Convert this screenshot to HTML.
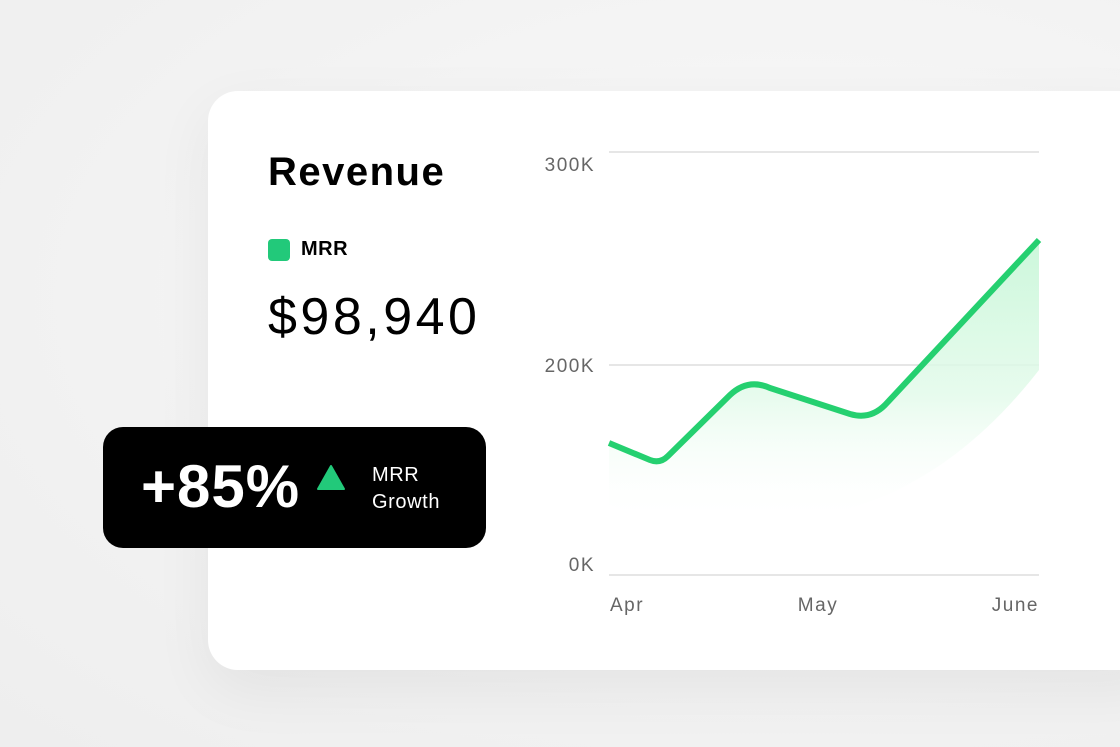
<!DOCTYPE html>
<html><head><style>
html,body{margin:0;padding:0}
body{width:1120px;height:747px;overflow:hidden;position:relative;background:radial-gradient(ellipse at 70% 40%,#f9f9f9 0%,#f1f1f1 70%,#eeeeee 100%);font-family:"Liberation Sans",sans-serif}
.card{position:absolute;left:208px;top:91px;width:960px;height:579px;background:#fff;border-radius:30px;box-shadow:0 20px 60px rgba(0,0,0,0.06)}
.t{position:absolute;color:#000;white-space:nowrap}
.badge{position:absolute;left:103px;top:427px;width:383px;height:121px;background:#000;border-radius:20px}
</style></head><body>
<div class="card"></div>
<div class="t" style="left:268px;top:150px;font-size:40px;font-weight:bold;letter-spacing:1.5px">Revenue</div>
<div style="position:absolute;left:268px;top:239px;width:22px;height:22px;border-radius:4px;background:#22c97a"></div>
<div class="t" style="left:301px;top:238px;font-size:20px;font-weight:bold;letter-spacing:0.5px">MRR</div>
<div class="t" style="left:268px;top:287px;font-size:52px;letter-spacing:3.5px">$98,940</div>
<svg style="position:absolute;left:0;top:0" width="1120" height="747">
<defs>
<linearGradient id="g" x1="0" y1="0" x2="0" y2="1">
<stop offset="0" stop-color="#c9f7d9" stop-opacity="0.95"/>
<stop offset="0.55" stop-color="#e1fae9" stop-opacity="0.8"/>
<stop offset="1" stop-color="#ffffff" stop-opacity="0"/>
</linearGradient>
</defs>
<g stroke="#dddddd" stroke-width="1.5">
<line x1="609" y1="152" x2="1039" y2="152"/>
<line x1="609" y1="365" x2="1039" y2="365"/>
<line x1="609" y1="575" x2="1039" y2="575"/>
</g>
<g font-family="Liberation Sans, sans-serif" font-size="19" fill="#666" letter-spacing="1.5">
<text x="595" y="171" text-anchor="end">300K</text>
<text x="595" y="372" text-anchor="end">200K</text>
<text x="595" y="571" text-anchor="end">0K</text>
<text x="610" y="611">Apr</text>
<text x="818" y="611" text-anchor="middle">May</text>
<text x="1039" y="611" text-anchor="end">June</text>
</g>
<path d="M609,443 L650,460 Q660,464 668,456 L730,395 Q748,378 770,388 L850,414 Q870,420 885,405 L1039,240 L1039,370 Q930,510 780,522 Q680,528 609,505 Z" fill="url(#g)"/>
<path d="M609,443 L650,460 Q660,464 668,456 L730,395 Q748,378 770,388 L850,414 Q870,420 885,405 L1039,240" fill="none" stroke="#25d070" stroke-width="6" stroke-linejoin="round"/>
</svg>
<div class="badge"></div>
<div class="t" style="left:141px;top:452px;font-size:60px;font-weight:bold;color:#fff;letter-spacing:1px">+85%</div>
<svg style="position:absolute;left:316px;top:463px" width="30" height="28"><path d="M15,3 L28,26 L2,26 Z" fill="#22c97a" stroke="#22c97a" stroke-width="2" stroke-linejoin="round"/></svg>
<div class="t" style="left:372px;top:462px;font-size:20px;line-height:27px;color:#fff;letter-spacing:0.6px">MRR<br>Growth</div>
</body></html>
